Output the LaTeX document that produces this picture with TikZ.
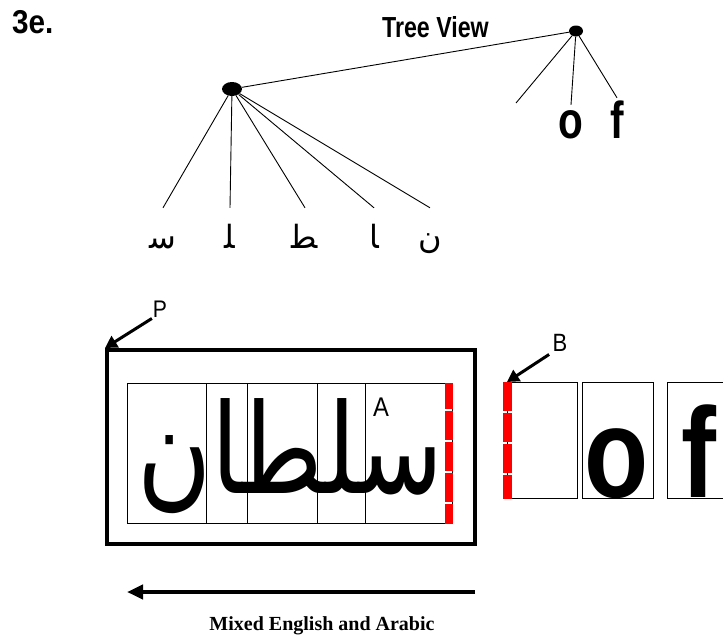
\documentclass[tikz,border=0pt]{standalone}
\usepackage{fontspec}
\setmainfont{Liberation Serif}
\newfontfamily\lsans{Liberation Sans}
\newfontfamily\arabicfont[Script=Arabic]{DejaVu Sans}
\TeXXeTstate=1
\usetikzlibrary{arrows.meta, shapes.geometric, positioning}

\tikzset{
  branch/.style={line width=0.9pt},
  dot/.style={ellipse, fill=black, inner sep=0pt, minimum width=20pt, minimum height=14pt},
  arleaf/.style={font=\arabicfont\fontsize{32}{32}\selectfont, inner sep=0pt, anchor=base, text height=40pt},
  enleaf/.style={font=\lsans\bfseries\fontsize{52}{52}\selectfont, inner sep=0pt, anchor=base, xscale=0.78},
  cell/.style={draw, line width=0.8pt, inner sep=0pt, anchor=north west},
  redbar/.style={red, line width=8pt, dash pattern=on 29pt off 2pt},
  ptr/.style={line width=3pt, -{Triangle[length=12pt, width=13pt]}},
  tag/.style={font=\lsans\fontsize{24}{24}\selectfont, inner sep=1pt, xscale=0.88}
}

\begin{document}
\begin{tikzpicture}[x=1pt, y=-1pt]
    \useasboundingbox (0,0) rectangle (723,640);

    % Title and heading
    \node[font=\lsans\bfseries\fontsize{33}{33}\selectfont, anchor=base west, inner sep=0pt, xscale=0.9] (title) at (12,33) {3e.};
    \node[font=\lsans\bfseries\fontsize{29}{29}\selectfont, anchor=base west, inner sep=0pt, xscale=0.8] (treeview) at (382,37) {Tree View};

    % Tree roots
    \node[dot] (arroot) at (232,89) {};
    \node[dot, minimum width=14pt, minimum height=11pt] (enroot) at (576,31) {};
    \draw[branch] (arroot) -- (enroot);

    % Arabic leaves
    \node[arleaf] (seen) at (163,248) {\arabicfont\beginR ﺳ\endR};
    \node[arleaf] (lam)  at (230,248) {\arabicfont\beginR ﻠ\endR};
    \node[arleaf] (tah)  at (305,248) {\arabicfont\beginR ﻄ\endR};
    \node[arleaf] (alef) at (374,248) {\arabicfont\beginR ﺎ\endR};
    \node[arleaf] (noon) at (430,248) {\arabicfont\beginR ﻥ\endR};
    \foreach \leaf in {seen, lam, tah, alef, noon}
        \draw[branch] (arroot) -- (\leaf.north);

    % English leaves
    \coordinate (space) at (516,103);
    \node[enleaf, text height=33pt] (oleaf) at (571,138) {o};
    \node[enleaf, text height=40pt] (fleaf) at (617,138) {f};
    \draw[branch] (enroot) -- (space);
    \draw[branch] (enroot) -- (oleaf.north);
    \draw[branch] (enroot) -- (fleaf.north);

    % Paragraph box with Arabic cells
    \node[draw, line width=4pt, minimum width=368pt, minimum height=194pt, inner sep=0pt] (pbox) at (291,447) {};
    \node[cell, minimum width=79pt, minimum height=140pt] (c1) at (127,383) {};
    \node[cell, minimum width=41pt, minimum height=140pt] (c2) at (206,383) {};
    \node[cell, minimum width=70pt, minimum height=140pt] (c3) at (247,383) {};
    \node[cell, minimum width=48pt, minimum height=140pt] (c4) at (317,383) {};
    \node[cell, minimum width=87pt, minimum height=140pt] (c5) at (365,383) {};
    \node[font=\arabicfont\fontsize{125}{125}\selectfont, anchor=base east, inner sep=0pt, xscale=0.81] (word) at (444,493) {\beginR سلطان\endR};
    \draw[redbar, dash phase=3pt] ([xshift=-3.5pt]c5.north east) -- ([xshift=-3.5pt]c5.south east);
    \node[tag, font=\lsans\fontsize{27}{27}\selectfont] (alabel) at (381,407) {A};

    % English cells
    \node[cell, minimum width=70pt, minimum height=116pt] (b1) at (507,382) {};
    \node[cell, minimum width=71pt, minimum height=116pt] (b2) at (582,382) {};
    \node[cell, minimum width=73pt, minimum height=116pt] (b3) at (667,382) {};
    \node[font=\lsans\bfseries\fontsize{128}{128}\selectfont, anchor=base, inner sep=0pt, xscale=0.82] (obig) at (617,497) {o};
    \node[font=\lsans\bfseries\fontsize{128}{128}\selectfont, anchor=base, inner sep=0pt, xscale=0.82] (fbig) at (699,497) {f};
    \draw[redbar, line width=9pt] (b1.north west) -- (b1.south west);

    % Pointers
    \node[tag] (plabel) at (160,309) {P};
    \draw[ptr] (plabel.south west) -- (pbox.north west);
    \node[tag, font=\lsans\fontsize{25}{25}\selectfont] (blabel) at (560,343) {B};
    \draw[ptr, shorten <=3pt] (blabel.south west) -- (b1.north west);

    % Reading direction
    \coordinate (rtlstart) at (475,592);
    \coordinate (rtlend) at (127,592);
    \draw[line width=4pt, -{Triangle[length=16pt, width=14pt]}] (rtlstart) -- (rtlend);
    \node[font=\bfseries\fontsize{20}{20}\selectfont, anchor=base, inner sep=0pt] (caption) at (322,630) {Mixed English and Arabic};
\end{tikzpicture}
\end{document}
